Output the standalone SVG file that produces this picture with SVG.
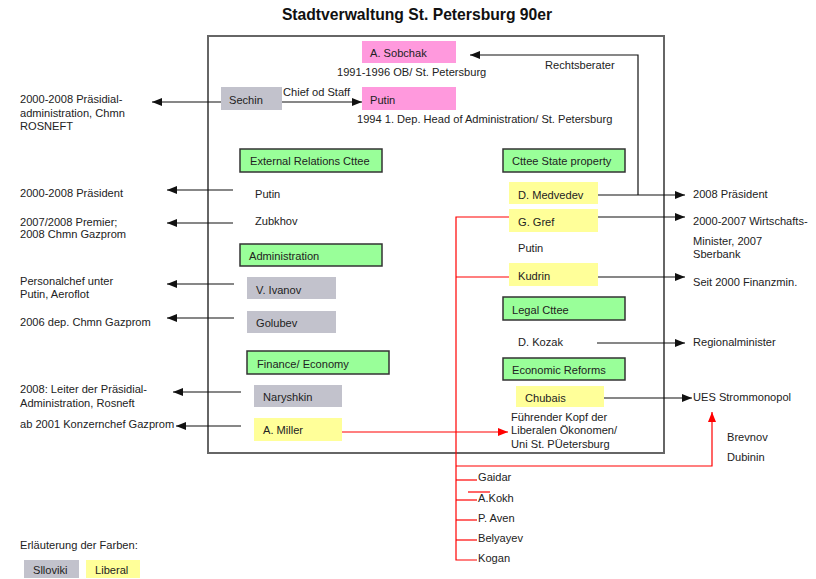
<svg xmlns="http://www.w3.org/2000/svg" width="816" height="579" viewBox="0 0 816 579">
<defs>
<marker id="ah" markerUnits="userSpaceOnUse" markerWidth="10" markerHeight="8" refX="10" refY="4" orient="auto"><path d="M0,0 L10,4 L0,8 z" fill="#111"/></marker>
<marker id="ahr" markerUnits="userSpaceOnUse" markerWidth="10" markerHeight="8" refX="10" refY="4" orient="auto"><path d="M0,0 L10,4 L0,8 z" fill="#ff0000"/></marker>
<style>
text{font-family:"Liberation Sans",Arial,sans-serif;font-size:11.1px;fill:#222}
.title{font-size:15.7px;font-weight:bold;fill:#111}
.pink{fill:#ff99dd}
.gray{fill:#c2c2cc}
.yel{fill:#ffff99}
.grn{fill:#99ff99;stroke:#333;stroke-width:1.5}
.ar{stroke:#111;stroke-width:1.2;fill:none;marker-end:url(#ah)}
.ln{stroke:#111;stroke-width:1.2;fill:none}
.rd{stroke:#ff0000;stroke-width:1.2;fill:none}
.rda{stroke:#ff0000;stroke-width:1.2;fill:none;marker-end:url(#ahr)}
</style>
</defs>
<rect width="816" height="579" fill="#fff"/>
<text class="title" x="417" y="20" text-anchor="middle">Stadtverwaltung St. Petersburg 90er</text>
<rect x="208" y="36" width="456" height="417" fill="none" stroke="#666" stroke-width="2"/>

<g id="connectors">
<line class="ar" x1="282" y1="102" x2="362" y2="102"/>
<text x="283" y="96">Chief od Staff</text>
<line class="ar" x1="221" y1="102" x2="152" y2="102"/>
<path class="ar" d="M638,195 L638,55 L470,55"/>
<text x="545" y="69">Rechtsberater</text>
<line class="ar" x1="233" y1="190" x2="167" y2="190"/>
<line class="ar" x1="233" y1="223" x2="167" y2="223"/>
<line class="ar" x1="234" y1="284" x2="167" y2="284"/>
<line class="ar" x1="234" y1="318" x2="167" y2="318"/>
<line class="ar" x1="241" y1="392" x2="173" y2="392"/>
<line class="ar" x1="241" y1="426" x2="176" y2="426"/>
<line class="ar" x1="598" y1="195" x2="685" y2="195"/>
<line class="ar" x1="598" y1="217" x2="685" y2="217"/>
<line class="ar" x1="598" y1="277" x2="685" y2="277"/>
<line class="ar" x1="597" y1="343" x2="685" y2="343"/>
<line class="ar" x1="604" y1="398" x2="692" y2="398"/>
<line class="rda" x1="342" y1="432" x2="508" y2="432"/>
<path class="rd" d="M509,217 L456,217 L456,560 L477,560"/>
<line class="rd" x1="456" y1="277" x2="509" y2="277"/>
<path class="rda" d="M456,466 L712,466 L712,412"/>
<line class="rd" x1="456" y1="480" x2="477" y2="480"/>
<line class="rd" x1="456" y1="500" x2="477" y2="500"/>
<line class="rd" x1="468" y1="492" x2="490" y2="492"/>
<line class="rd" x1="456" y1="520" x2="477" y2="520"/>
<line class="rd" x1="456" y1="540" x2="477" y2="540"/>
</g>

<g id="sobchak"><rect class="pink" x="362" y="41" width="94" height="22"/><text x="370" y="57">A. Sobchak</text><text x="337" y="76">1991-1996 OB/ St. Petersburg</text></g>
<g id="putin-top"><rect class="pink" x="362" y="87" width="94" height="23"/><text x="370" y="104">Putin</text><text x="357" y="123">1994 1. Dep. Head of Administration/ St. Petersburg</text></g>
<g id="sechin"><rect class="gray" x="221" y="87" width="61" height="23"/><text x="229" y="104">Sechin</text></g>
<g id="sechin-note"><text x="20" y="103">2000-2008 Präsidial-</text><text x="20" y="117">administration, Chmn</text><text x="20" y="130">ROSNEFT</text></g>

<g id="ext-rel"><rect class="grn" x="240" y="149" width="142" height="23"/><text x="250" y="165">External Relations Cttee</text></g>
<g id="putin-ext"><text x="255" y="198">Putin</text></g>
<g id="zubkhov"><text x="255" y="225">Zubkhov</text></g>
<g id="note-praes"><text x="20" y="197">2000-2008 Präsident</text></g>
<g id="note-premier"><text x="20" y="226">2007/2008 Premier;</text><text x="20" y="238">2008 Chmn Gazprom</text></g>

<g id="administration"><rect class="grn" x="240" y="244" width="142" height="22"/><text x="249" y="260">Administration</text></g>
<g id="ivanov"><rect class="gray" x="247" y="277" width="89" height="22"/><text x="256" y="294">V. Ivanov</text></g>
<g id="golubev"><rect class="gray" x="247" y="311" width="89" height="22"/><text x="256" y="327">Golubev</text></g>
<g id="note-ivanov"><text x="20" y="285">Personalchef unter</text><text x="20" y="298">Putin, Aeroflot</text></g>
<g id="note-golubev"><text x="20" y="326">2006 dep. Chmn Gazprom</text></g>

<g id="finance"><rect class="grn" x="247" y="351" width="142" height="23"/><text x="257" y="368">Finance/ Economy</text></g>
<g id="naryshkin"><rect class="gray" x="254" y="385" width="88" height="22"/><text x="263" y="401">Naryshkin</text></g>
<g id="miller"><rect class="yel" x="254" y="418" width="88" height="23"/><text x="263" y="434">A. Miller</text></g>
<g id="note-naryshkin"><text x="20" y="393">2008: Leiter der Präsidial-</text><text x="20" y="407">Administration, Rosneft</text></g>
<g id="note-miller"><text x="20" y="428">ab 2001 Konzernchef Gazprom</text></g>

<g id="state-prop"><rect class="grn" x="503" y="149" width="122" height="23"/><text x="512" y="165">Cttee State property</text></g>
<g id="medvedev"><rect class="yel" x="509" y="182" width="89" height="22"/><text x="518" y="199">D. Medvedev</text></g>
<g id="gref"><rect class="yel" x="509" y="209" width="89" height="23"/><text x="518" y="226">G. Gref</text></g>
<g id="putin-sp"><text x="518" y="252">Putin</text></g>
<g id="kudrin"><rect class="yel" x="509" y="263" width="89" height="23"/><text x="518" y="280">Kudrin</text></g>
<g id="note-medvedev"><text x="693" y="198">2008 Präsident</text></g>
<g id="note-gref"><text x="693" y="225">2000-2007 Wirtschafts-</text><text x="693" y="245">Minister, 2007</text><text x="693" y="258">Sberbank</text></g>
<g id="note-kudrin"><text x="693" y="286">Seit 2000 Finanzmin.</text></g>

<g id="legal"><rect class="grn" x="503" y="297" width="122" height="23"/><text x="512" y="314">Legal Cttee</text></g>
<g id="kozak"><text x="518" y="346">D. Kozak</text></g>
<g id="note-kozak"><text x="693" y="346">Regionalminister</text></g>
<g id="econ"><rect class="grn" x="503" y="358" width="122" height="22"/><text x="512" y="374">Economic Reforms</text></g>
<g id="chubais"><rect class="yel" x="516" y="386" width="88" height="21"/><text x="525" y="402">Chubais</text></g>
<g id="note-chubais"><text x="511" y="421">Führender Kopf der</text><text x="511" y="434">Liberalen Ökonomen/</text><text x="511" y="448">Uni St. PÜetersburg</text></g>
<g id="ues"><text x="693" y="401">UES Strommonopol</text></g>
<g id="brevnov"><text x="727" y="441">Brevnov</text></g>
<g id="dubinin"><text x="727" y="461">Dubinin</text></g>

<g id="gaidar"><text x="478" y="481">Gaidar</text></g>
<g id="kokh"><text x="478" y="502">A.Kokh</text></g>
<g id="aven"><text x="478" y="522">P. Aven</text></g>
<g id="belyayev"><text x="478" y="542">Belyayev</text></g>
<g id="kogan"><text x="478" y="562">Kogan</text></g>

<g id="legend">
<text x="20" y="549">Erläuterung der Farben:</text>
<rect class="gray" x="24" y="560" width="55" height="18"/><text x="33" y="574">Slloviki</text>
<rect class="yel" x="86" y="560" width="54" height="18"/><text x="95" y="574">Liberal</text>
</g>
</svg>
